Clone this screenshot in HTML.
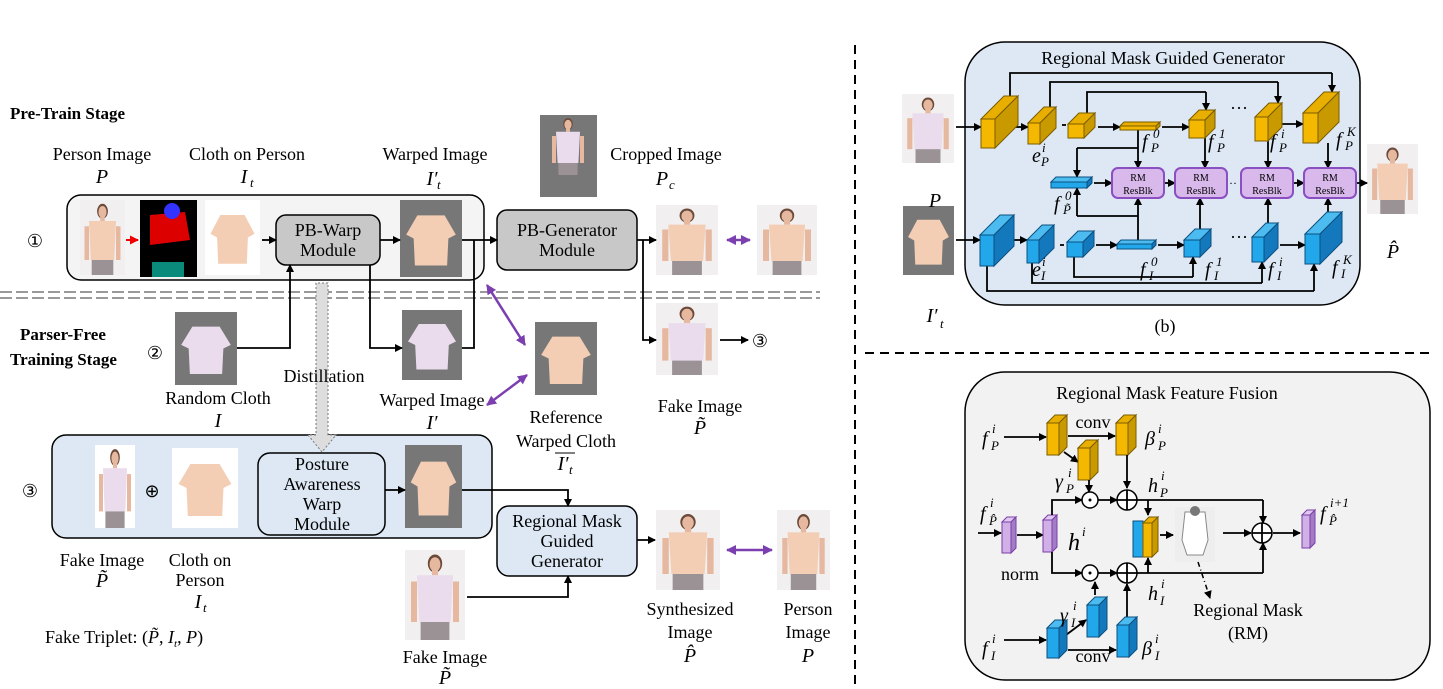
<!DOCTYPE html>
<html><head><meta charset="utf-8"><style>
body{margin:0;background:#fff}
svg{display:block}
text{font-family:"Liberation Serif",serif;fill:#000}
.l{font-size:18px}
.m{font-style:italic;font-size:20px}
.s{font-style:italic;font-size:13px}
.b{font-weight:bold;font-size:17px}
</style></head><body>
<svg id="s" width="1443" height="689" viewBox="0 0 1443 689" xmlns="http://www.w3.org/2000/svg">
<defs>
<marker id="a" markerWidth="8" markerHeight="8" refX="7" refY="4" orient="auto" markerUnits="userSpaceOnUse"><path d="M0,0 L8,4 L0,8z" fill="#000"/></marker>
<marker id="pa" markerWidth="10" markerHeight="10" refX="9" refY="5" orient="auto-start-reverse" markerUnits="userSpaceOnUse"><path d="M0,0 L10,5 L0,10z" fill="#7b3fb0"/></marker>
<marker id="ra" markerWidth="9" markerHeight="9" refX="8" refY="4.5" orient="auto" markerUnits="userSpaceOnUse"><path d="M0,0 L9,4.5 L0,9z" fill="#e00"/></marker>
</defs>
<line x1="855" y1="45" x2="855" y2="689" stroke="#000" stroke-width="2" stroke-dasharray="9,6"/>
<line x1="865" y1="353" x2="1435" y2="353" stroke="#000" stroke-width="2" stroke-dasharray="9,6"/>
<line x1="0" y1="292" x2="820" y2="292" stroke="#999" stroke-width="2" stroke-dasharray="12,4"/>
<line x1="0" y1="298" x2="820" y2="298" stroke="#999" stroke-width="2" stroke-dasharray="12,4"/>
<rect x="67" y="195" width="417" height="85" rx="14" fill="#f4f4f4" stroke="#000" stroke-width="1.5"/>
<rect x="52" y="435" width="440" height="103" rx="14" fill="#dde8f4" stroke="#000" stroke-width="1.5"/>
<rect x="276" y="215" width="104" height="50" rx="10" fill="#c8c8c8" stroke="#000" stroke-width="1.5"/>
<rect x="497" y="210" width="140" height="60" rx="10" fill="#c8c8c8" stroke="#000" stroke-width="1.5"/>
<rect x="258" y="453" width="127" height="82" rx="12" fill="#dde8f4" stroke="#000" stroke-width="1.5"/>
<rect x="497" y="506" width="140" height="70" rx="12" fill="#dde8f4" stroke="#000" stroke-width="1.5"/>
<rect x="965" y="42" width="395" height="263" rx="40" fill="#dde8f4" stroke="#000" stroke-width="1.5"/>
<rect x="965" y="372" width="465" height="308" rx="40" fill="#f2f2f2" stroke="#000" stroke-width="1.5"/>
<g id="g"></g>
<text x="10" y="119" class="b">Pre-Train Stage</text>
<text x="102" y="160" class="l" text-anchor="middle">Person Image</text>
<text x="102" y="183" class="m" text-anchor="middle">P</text>
<text x="247" y="160" class="l" text-anchor="middle">Cloth on Person</text>
<text x="244" y="183" class="m" text-anchor="middle">I</text><text x="250" y="187" class="s">t</text>
<text x="435" y="160" class="l" text-anchor="middle">Warped Image</text>
<text x="432" y="185" class="m" text-anchor="middle">I′</text><text x="437" y="189" class="s">t</text>
<text x="666" y="160" class="l" text-anchor="middle">Cropped Image</text>
<text x="662" y="185" class="m" text-anchor="middle">P</text><text x="669" y="189" class="s">c</text>
<text x="35" y="247" class="l" text-anchor="middle" font-size="20">①</text>
<text x="328" y="236" class="l" text-anchor="middle" font-size="14">PB-Warp</text>
<text x="328" y="256" class="l" text-anchor="middle" font-size="14">Module</text>
<text x="567" y="236" class="l" text-anchor="middle" font-size="14">PB-Generator</text>
<text x="567" y="256" class="l" text-anchor="middle" font-size="14">Module</text>
<text x="20" y="340" class="b">Parser-Free</text>
<text x="10" y="365" class="b">Training Stage</text>
<text x="155" y="359" class="l" text-anchor="middle" font-size="20">②</text>
<text x="218" y="404" class="l" text-anchor="middle">Random Cloth</text>
<text x="218" y="427" class="m" text-anchor="middle">I</text>
<text x="324" y="382" class="l" text-anchor="middle">Distillation</text>
<text x="432" y="406" class="l" text-anchor="middle">Warped Image</text>
<text x="432" y="429" class="m" text-anchor="middle">I′</text>
<text x="566" y="423" class="l" text-anchor="middle">Reference</text>
<text x="566" y="447" class="l" text-anchor="middle">Warped Cloth</text>
<text x="563" y="470" class="m" text-anchor="middle">I′</text><text x="569" y="474" class="s">t</text>
<line x1="555" y1="453" x2="575" y2="453" stroke="#000"/>
<text x="700" y="412" class="l" text-anchor="middle">Fake Image</text>
<text x="700" y="434" class="m" text-anchor="middle">P̃</text>
<text x="760" y="347" class="l" text-anchor="middle" font-size="20">③</text>
<text x="30" y="497" class="l" text-anchor="middle" font-size="20">③</text>
<text x="152" y="497" class="l" text-anchor="middle" font-size="18">⊕</text>
<text x="322" y="470" class="l" text-anchor="middle" font-size="14">Posture</text>
<text x="322" y="490" class="l" text-anchor="middle" font-size="14">Awareness</text>
<text x="322" y="510" class="l" text-anchor="middle" font-size="14">Warp</text>
<text x="322" y="530" class="l" text-anchor="middle" font-size="14">Module</text>
<text x="567" y="527" class="l" text-anchor="middle" font-size="14">Regional Mask</text>
<text x="567" y="547" class="l" text-anchor="middle" font-size="14">Guided</text>
<text x="567" y="567" class="l" text-anchor="middle" font-size="14">Generator</text>
<text x="102" y="566" class="l" text-anchor="middle">Fake Image</text>
<text x="102" y="587" class="m" text-anchor="middle">P̃</text>
<text x="200" y="566" class="l" text-anchor="middle" font-size="16">Cloth on</text>
<text x="200" y="586" class="l" text-anchor="middle" font-size="16">Person</text>
<text x="198" y="608" class="m" text-anchor="middle">I</text><text x="203" y="612" class="s">t</text>
<text x="45" y="643" class="l" font-size="16">Fake Triplet: (<tspan font-style="italic">P̃</tspan>, <tspan font-style="italic">I</tspan><tspan font-size="11" dy="4" font-style="italic">t</tspan><tspan dy="-4">, </tspan><tspan font-style="italic">P</tspan>)</text>
<text x="445" y="663" class="l" text-anchor="middle">Fake Image</text>
<text x="445" y="684" class="m" text-anchor="middle">P̃</text>
<text x="690" y="615" class="l" text-anchor="middle">Synthesized</text>
<text x="690" y="638" class="l" text-anchor="middle">Image</text>
<text x="690" y="662" class="m" text-anchor="middle">P̂</text>
<text x="808" y="615" class="l" text-anchor="middle">Person</text>
<text x="808" y="638" class="l" text-anchor="middle">Image</text>
<text x="808" y="662" class="m" text-anchor="middle">P</text>
<text x="1163" y="64" class="l" text-anchor="middle" font-size="23">Regional Mask Guided Generator</text>
<text x="935" y="207" class="m" text-anchor="middle" font-size="24">P</text>
<text x="932" y="322" class="m" text-anchor="middle" font-size="24">I′</text><text x="940" y="328" class="s" font-size="15">t</text>
<text x="1393" y="258" class="m" text-anchor="middle" font-size="24">P̂</text>
<text x="1165" y="332" class="l" text-anchor="middle" font-size="20">(b)</text>
<g class="m" font-size="17">
<text x="1032" y="162">e</text><text x="1042" y="152" class="s" font-size="11">i</text><text x="1041" y="166" class="s" font-size="11">P</text>
<text x="1142" y="148">f</text><text x="1153" y="138" class="s" font-size="11">0</text><text x="1151" y="152" class="s" font-size="11">P</text>
<text x="1208" y="148">f</text><text x="1219" y="138" class="s" font-size="11">1</text><text x="1217" y="152" class="s" font-size="11">P</text>
<text x="1270" y="148">f</text><text x="1281" y="138" class="s" font-size="11">i</text><text x="1279" y="152" class="s" font-size="11">P</text>
<text x="1336" y="146">f</text><text x="1347" y="136" class="s" font-size="11">K</text><text x="1345" y="150" class="s" font-size="11">P</text>
<text x="1054" y="210">f</text><text x="1065" y="200" class="s" font-size="11">0</text><text x="1063" y="214" class="s" font-size="11">P̃</text>
<text x="1032" y="276">e</text><text x="1042" y="266" class="s" font-size="11">i</text><text x="1041" y="280" class="s" font-size="11">I</text>
<text x="1140" y="276">f</text><text x="1151" y="266" class="s" font-size="11">0</text><text x="1149" y="280" class="s" font-size="11">I</text>
<text x="1205" y="276">f</text><text x="1216" y="266" class="s" font-size="11">1</text><text x="1214" y="280" class="s" font-size="11">I</text>
<text x="1268" y="276">f</text><text x="1279" y="266" class="s" font-size="11">i</text><text x="1277" y="280" class="s" font-size="11">I</text>
<text x="1332" y="274">f</text><text x="1343" y="264" class="s" font-size="11">K</text><text x="1341" y="278" class="s" font-size="11">I</text>
</g>
<g class="l" font-size="15"><text x="1230" y="114">···</text><text x="1230" y="243">···</text><text x="1229" y="187" font-size="12">··</text></g>
<text x="1167" y="399" class="l" text-anchor="middle" font-size="22">Regional Mask Feature Fusion</text>
<g class="m">
<text x="982" y="445">f</text><text x="992" y="433" class="s">i</text><text x="991" y="450" class="s">P</text>
<text x="1145" y="445">β</text><text x="1158" y="433" class="s">i</text><text x="1158" y="450" class="s">P</text>
<text x="1055" y="488">γ</text><text x="1068" y="477" class="s">i</text><text x="1066" y="493" class="s">P</text>
<text x="1148" y="492">h</text><text x="1161" y="480" class="s">i</text><text x="1160" y="497" class="s">P</text>
<text x="980" y="520">f</text><text x="990" y="507" class="s">i</text><text x="989" y="525" class="s">P̂</text>
<text x="1068" y="550" font-size="24">h</text><text x="1082" y="536" class="s">i</text>
<text x="1148" y="600">h</text><text x="1161" y="588" class="s">i</text><text x="1160" y="605" class="s">I</text>
<text x="1060" y="622">γ</text><text x="1073" y="610" class="s">i</text><text x="1071" y="627" class="s">I</text>
<text x="982" y="655">f</text><text x="992" y="643" class="s">i</text><text x="991" y="660" class="s">I</text>
<text x="1142" y="655">β</text><text x="1155" y="643" class="s">i</text><text x="1155" y="660" class="s">I</text>
<text x="1320" y="520">f</text><text x="1330" y="507" class="s">i+1</text><text x="1329" y="525" class="s">P̂</text>
</g>
<text x="1093" y="428" class="l" text-anchor="middle">conv</text>
<text x="1093" y="662" class="l" text-anchor="middle">conv</text>
<text x="1020" y="580" class="l" text-anchor="middle">norm</text>
<text x="1248" y="616" class="l" text-anchor="middle">Regional Mask</text>
<text x="1248" y="639" class="l" text-anchor="middle">(RM)</text>
</svg>
<script>
const G=document.getElementById('g'),NS='http://www.w3.org/2000/svg';
function el(t,a,p){const e=document.createElementNS(NS,t);for(const k in a)e.setAttribute(k,a[k]);(p||G).appendChild(e);return e}
function ar(pts,c,w){el('polyline',{points:pts,fill:'none',stroke:c||'#000','stroke-width':w||1.8,'marker-end':'url(#a)'})}
function ln(pts){el('polyline',{points:pts,fill:'none',stroke:'#000','stroke-width':1.8})}
const C={y:['#f5b800','#c99a00','#e8ae00','#7a5c00'],b:['#22a8ea','#1478bd','#4cbcf0','#0b4f80'],p:['#d0b0e6','#a47cc6','#e0c8f0','#7a3fa8']};
function blk(x,y,w,h,d,c){const k=C[c];
el('polygon',{points:`${x},${y+d} ${x+d},${y} ${x+w+d},${y} ${x+w},${y+d}`,fill:k[2],stroke:k[3],'stroke-width':1});
el('polygon',{points:`${x+w},${y+d} ${x+w+d},${y} ${x+w+d},${y+h-d} ${x+w},${y+h}`,fill:k[1],stroke:k[3],'stroke-width':1});
el('rect',{x:x,y:y+d,width:w,height:h-d,fill:k[0],stroke:k[3],'stroke-width':1});}
function photo(x,y,w,h,shirt,bg){el('rect',{x,y,width:w,height:h,fill:bg||'#f1eff0'});
const cx=x+w/2;el('ellipse',{cx,cy:y+h*0.15,rx:w*0.12,ry:h*0.1,fill:'#6b4a3a'});
el('ellipse',{cx,cy:y+h*0.16,rx:w*0.09,ry:h*0.08,fill:'#e6b8a0'});
el('rect',{x:cx-w*0.05,y:y+h*0.22,width:w*0.1,height:h*0.06,fill:'#e6b8a0'});
el('path',{d:`M${cx-w*0.3},${y+h*0.28} L${cx+w*0.3},${y+h*0.28} L${cx+w*0.26},${y+h*0.8} L${cx-w*0.26},${y+h*0.8}z`,fill:shirt});
el('rect',{x:cx-w*0.24,y:y+h*0.8,width:w*0.48,height:h*0.2,fill:'#9a9294'});
el('rect',{x:cx-w*0.4,y:y+h*0.35,width:w*0.1,height:h*0.45,fill:'#e6b8a0'});
el('rect',{x:cx+w*0.3,y:y+h*0.35,width:w*0.1,height:h*0.45,fill:'#e6b8a0'});}
function cloth(x,y,w,h,col,bg){el('rect',{x,y,width:w,height:h,fill:bg});const cx=x+w/2;
el('path',{d:`M${cx-w*0.22},${y+h*0.2} L${cx-w*0.4},${y+h*0.45} L${cx-w*0.28},${y+h*0.5} L${cx-w*0.26},${y+h*0.85} L${cx+w*0.26},${y+h*0.85} L${cx+w*0.28},${y+h*0.5} L${cx+w*0.4},${y+h*0.45} L${cx+w*0.22},${y+h*0.2}z`,fill:col});}
const PE='#f3cdb4',PK='#eadcec',GR='#777';
photo(80,200,45,75,PE);
el('rect',{x:140,y:200,width:57,height:77,fill:'#000'});el('path',{d:'M150,215 L185,212 L190,240 L150,245z',fill:'#d00'});el('circle',{cx:172,cy:211,r:8,fill:'#33f'});el('rect',{x:152,y:262,width:32,height:15,fill:'#0a8a7a'});
cloth(205,200,55,75,PE,'#fff');
cloth(400,200,62,77,PE,GR);
el('rect',{x:540,y:115,width:57,height:82,fill:GR});photo(548,115,40,60,PK,GR);
photo(656,205,62,70,PE);photo(757,205,60,70,PE);
cloth(175,312,62,73,PK,GR);cloth(402,310,60,70,PK,GR);cloth(535,322,62,73,PE,GR);
photo(656,303,62,72,PK);
photo(95,445,40,83,PK,'#fff');cloth(172,448,66,80,PE,'#fff');cloth(405,445,57,83,PE,GR);
photo(405,550,60,90,PK);photo(656,510,64,80,PE);photo(777,510,53,80,PE);
el('line',{x1:126,y1:240,x2:138,y2:240,stroke:'#e00','stroke-width':2,'marker-end':'url(#ra)'});
ar('262,240 276,240');ar('380,240 400,240');ar('462,240 497,240');
ar('637,240 656,240');ar('643,240 643,340 656,340');ar('720,340 748,340');
ar('237,348 290,348 290,265');ar('370,265 370,348 402,348');ln('462,348 474,348 474,240');
ar('385,490 405,490');ar('462,490 568,490 568,506');ar('467,597 568,597 568,576');ar('637,540 655,540');
el('line',{x1:727,y1:240,x2:750,y2:240,stroke:'#7b3fb0','stroke-width':2.5,'marker-end':'url(#pa)','marker-start':'url(#pa)'});
el('line',{x1:727,y1:550,x2:772,y2:550,stroke:'#7b3fb0','stroke-width':2.5,'marker-end':'url(#pa)','marker-start':'url(#pa)'});
el('line',{x1:487,y1:285,x2:525,y2:345,stroke:'#7b3fb0','stroke-width':2.5,'marker-end':'url(#pa)','marker-start':'url(#pa)'});
el('line',{x1:527,y1:375,x2:487,y2:405,stroke:'#7b3fb0','stroke-width':2.5,'marker-end':'url(#pa)','marker-start':'url(#pa)'});
el('path',{d:'M316,283 L316,435 L308,435 L322,452 L336,435 L328,435 L328,283z',fill:'#ddd',stroke:'#777','stroke-dasharray':'2,2'});
photo(902,94,52,69,PK);el('rect',{x:903,y:206,width:51,height:69,fill:GR});cloth(903,206,51,69,PE,GR);photo(1367,144,51,70,PE);
ln('1010,96 1010,73 1332,73');ar('1332,73 1332,92');ln('1050,107 1050,82 1278,82');ar('1278,82 1278,103');ln('1087,113 1087,92 1206,92');ar('1206,92 1206,110');
ln('987,266 987,291 1314,291');ar('1314,291 1314,264');ln('1032,263 1032,283 1262,283');ar('1262,283 1262,262');ln('1074,257 1074,277 1193,277');ar('1193,277 1193,257');
ar('956,127 981,127');ar('1014,127 1028,127');ar('1098,127 1120,127');ar('1162,127 1189,127');ar('1282,124 1303,124');
ar('956,240 980,240');ar('1012,240 1027,240');ar('1096,245 1117,245');ar('1158,245 1184,245');ar('1280,245 1305,245');
ln('1062,125 1066,125');ln('1060,245 1064,245');
ar('1138,130 1138,168');ln('1138,148 1077,148');ar('1077,148 1077,177');
ar('1138,240 1138,198');ln('1138,216 1077,216');ar('1077,216 1077,188');
ar('1205,138 1205,168');ar('1268,141 1268,168');ar('1328,143 1328,168');
ar('1200,229 1200,198');ar('1268,223 1268,198');ar('1328,212 1328,198');
ar('1094,183 1112,183');ar('1164,183 1175,183');ar('1293,183 1304,183');ar('1356,183 1367,183');
blk(981,96,14,52,23,'y');blk(1028,107,12,37,16,'y');blk(1068,113,16,25,11,'y');blk(1120,122,36,8,4,'y');
blk(1189,110,16,28,10,'y');blk(1255,103,13,38,14,'y');blk(1303,92,15,51,21,'y');
blk(1051,177,36,11,5,'b');
blk(980,215,14,51,20,'b');blk(1027,225,12,38,15,'b');blk(1067,231,16,26,11,'b');blk(1117,240,35,9,4,'b');
blk(1184,229,16,28,11,'b');blk(1252,223,12,39,14,'b');blk(1305,212,15,52,22,'b');
[1112,1175,1241,1304].forEach(x=>{el('rect',{x,y:168,width:52,height:30,rx:6,fill:'#d9b8ec',stroke:'#8a4fc0','stroke-width':2});
const t1=el('text',{x:x+26,y:181,'text-anchor':'middle','font-size':10});t1.textContent='RM';
const t2=el('text',{x:x+26,y:194,'text-anchor':'middle','font-size':10});t2.textContent='ResBlk';});
ar('1004,437 1046,437');ar('1068,436 1115,436');ar('1064,452 1078,462');
blk(1047,415,12,40,8,'y');blk(1116,415,12,40,8,'y');blk(1078,440,12,40,8,'y');
ar('1089,480 1089,492');ar('1127,455 1127,488');
el('circle',{cx:1090,cy:500,r:8,fill:'#fff',stroke:'#000','stroke-width':1.5});el('circle',{cx:1090,cy:500,r:1.5,fill:'#000'});
ar('1098,500 1117,500');
function plus(cx,cy){el('circle',{cx,cy,r:10,fill:'#fff',stroke:'#000','stroke-width':1.5});ln(`${cx-10},${cy} ${cx+10},${cy}`);ln(`${cx},${cy-10} ${cx},${cy+10}`);}
ln('1137,500 1263,500');ar('1263,500 1263,523');ar('1148,500 1148,515');
ar('978,533 1001,533');blk(1002,517,9,36,5,'p');ar('1017,535 1043,535');blk(1043,515,9,37,5,'p');
ar('1052,515 1052,500 1082,500');ar('1052,552 1052,573 1082,573');
el('circle',{cx:1090,cy:573,r:8,fill:'#fff',stroke:'#000','stroke-width':1.5});el('circle',{cx:1090,cy:573,r:1.5,fill:'#000'});
ar('1098,573 1117,573');ln('1137,573 1263,573');ar('1263,573 1263,543');ar('1148,573 1148,558');
plus(1127,500);plus(1127,573);
el('rect',{x:1133,y:521,width:10,height:36,fill:'#22a8ea',stroke:'#0b4f80'});blk(1143,517,9,40,6,'y');
ar('1160,535 1173,535');
el('rect',{x:1175,y:507,width:40,height:55,fill:'#eee'});el('path',{d:'M1185,512 L1205,512 L1208,540 L1203,555 L1187,555 L1182,540z',fill:'#fff',stroke:'#888'});el('circle',{cx:1195,cy:511,r:5,fill:'#777'});
ar('1223,533 1251,533');plus(1262,533);ar('1273,533 1300,533');blk(1302,510,8,38,5,'p');
el('line',{x1:1198,y1:562,x2:1210,y2:598,stroke:'#000','stroke-width':1.5,'stroke-dasharray':'5,3,1,3','marker-end':'url(#a)'});
ar('1004,640 1046,640');ar('1066,635 1086,620');ar('1068,650 1116,650');ar('1095,595 1095,582');ar('1127,617 1127,584');
blk(1047,620,12,38,8,'b');blk(1087,597,12,40,8,'b');blk(1117,617,12,40,8,'b');
</script>
</body></html>
